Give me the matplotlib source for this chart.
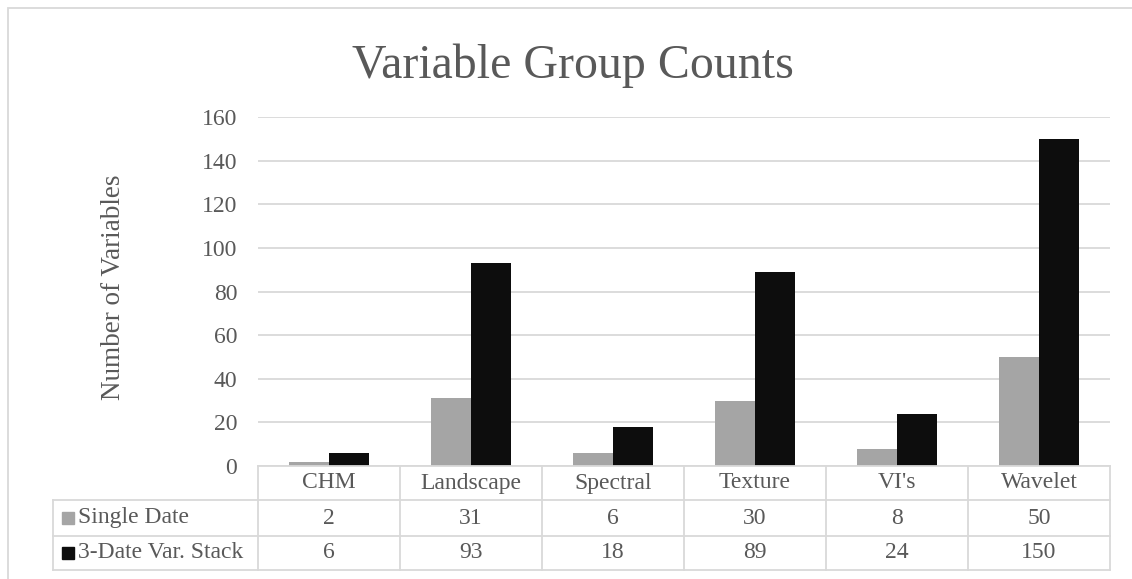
import matplotlib
matplotlib.use("Agg")
import matplotlib.pyplot as plt
import matplotlib.transforms as mtransforms
from matplotlib.patches import Rectangle
from matplotlib.lines import Line2D
import numpy as np

categories = ["CHM", "Landscape", "Spectral", "Texture", "VI's", "Wavelet"]
series_names = ["Single Date", "3-Date Var. Stack"]
single_date = [2, 31, 6, 30, 8, 50]
three_date = [6, 93, 18, 89, 24, 150]
y_ticks = [0, 20, 40, 60, 80, 100, 120, 140, 160]

W, H = 1132, 579
TEXT = "#595959"
GRID = "#D9D9D9"
COLORS = ["#A5A5A5", "#0D0D0D"]
FS = 17

plt.rcParams["font.family"] = ["Liberation Serif", "DejaVu Serif"]

fig = plt.figure(figsize=(W / 100, H / 100), dpi=100)


def fx(x):
    return x / W


def fy(y):
    return 1 - y / H


# chart frame
fig.patches.append(Rectangle((fx(8), fy(600)), fx(1200), fy(8) - fy(600),
                             transform=fig.transFigure, fill=False,
                             edgecolor=GRID, linewidth=1.3))

left, right, top, bottom = 258, 1110, 117, 466
ax = fig.add_axes([fx(left), fy(bottom), fx(right - left), fy(top) - fy(bottom)])

x = np.arange(len(categories))
bw = 0.285
ax.bar(x - bw / 2, single_date, bw, color=COLORS[0], zorder=3)
ax.bar(x + bw / 2, three_date, bw, color=COLORS[1], zorder=3)

ax.set_xlim(-0.5, len(categories) - 0.5)
ax.set_ylim(0, 160)
ax.set_yticks(y_ticks)
ax.set_xticks([])
ax.tick_params(axis="y", length=0, labelsize=FS, labelcolor=TEXT, pad=15)
ax.yaxis.grid(True, color=GRID, linewidth=1.3, zorder=0)
for s in ax.spines.values():
    s.set_visible(False)

fig.text(fx(113), fy(287), "Number of Variables", rotation=90, ha="center",
         va="center", fontsize=19.5, color=TEXT)
fig.text(fx(573), fy(78), "Variable Group Counts", ha="center", va="baseline",
         fontsize=34.5, color=TEXT)

# data table under the plot
tr = mtransforms.blended_transform_factory(ax.transData, fig.transFigure)
row_y = [466, 500, 536, 570]
lw = 1.3
n = len(categories)
for i, yy in enumerate(row_y):
    x0 = left if i == 0 else 53
    fig.lines.append(Line2D([fx(x0), fx(right)], [fy(yy), fy(yy)],
                            transform=fig.transFigure, color=GRID, linewidth=lw))
for i in range(n + 1):
    xe = i - 0.5
    fig.lines.append(Line2D([xe, xe], [fy(row_y[0]), fy(row_y[-1])],
                            transform=tr, color=GRID, linewidth=lw))
fig.lines.append(Line2D([fx(53), fx(53)], [fy(row_y[1]), fy(row_y[-1])],
                        transform=fig.transFigure, color=GRID, linewidth=lw))

for i, c in enumerate(categories):
    fig.text(i, fy((row_y[0] + row_y[1]) / 2), c, transform=tr, ha="center",
             va="center", fontsize=FS, color=TEXT)

for r, (name, vals) in enumerate(zip(series_names, [single_date, three_date])):
    yc = (row_y[r + 1] + row_y[r + 2]) / 2
    fig.patches.append(Rectangle((fx(62), fy(yc + 6)), fx(12), fy(yc - 6) - fy(yc + 6),
                                 transform=fig.transFigure, color=COLORS[r]))
    fig.text(fx(78), fy(yc), name, ha="left", va="center", fontsize=FS, color=TEXT)
    for i, v in enumerate(vals):
        fig.text(i, fy(yc), str(v), transform=tr, ha="center", va="center",
                 fontsize=FS, color=TEXT)

fig.savefig("out.png", dpi=100)
